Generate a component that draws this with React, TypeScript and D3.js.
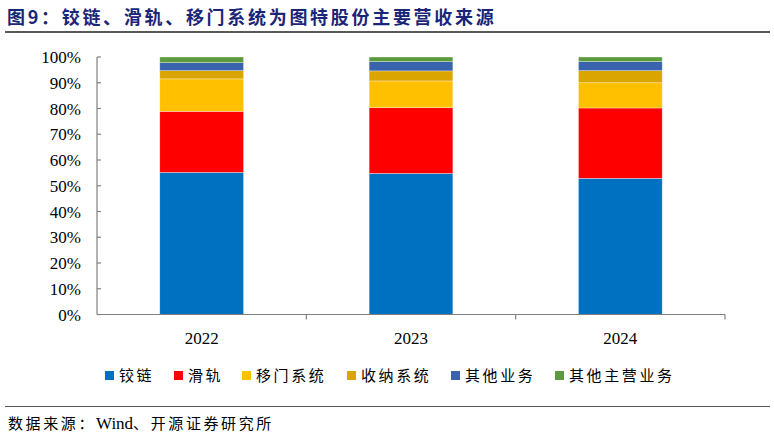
import React from "react";
import * as d3 from "d3";

if (typeof document !== "undefined") document.body.style.margin = "0";

const years = ["2022", "2023", "2024"];
const seriesNames = ["铰链", "滑轨", "移门系统", "收纳系统", "其他业务", "其他主营业务"];
const hinge = [55.2, 54.8, 52.9];
const slide = [23.7, 25.5, 27.3];
const slidingDoor = [12.6, 10.4, 9.8];
const storage = [3.2, 3.9, 4.7];
const otherBiz = [3.1, 3.6, 3.5];
const otherMain = [2.2, 1.8, 1.8];
const yTicks = [0, 10, 20, 30, 40, 50, 60, 70, 80, 90, 100];
const colors = ["#0070C0", "#FF0000", "#FFC000", "#DBA500", "#3A63AD", "#5B9B3D"];

const W = 774;
const H = 436;
const left = 97;
const right = 725;
const top = 57;
const bottom = 314.5;

export default function App() {
  const seriesValues = [hinge, slide, slidingDoor, storage, otherBiz, otherMain];
  const rows = years.map((y, i) => {
    const r: any = { year: y };
    seriesNames.forEach((s, k) => (r[s] = seriesValues[k][i]));
    return r;
  });
  const stacked = d3.stack<any>().keys(seriesNames)(rows);
  const x = d3.scaleBand<string>().domain(years).range([left, right]).paddingInner(0.6).paddingOuter(0.3);
  const xOuter = d3.scaleBand<string>().domain(years).range([left, right]);
  const y = d3.scaleLinear().domain([0, 100]).range([bottom, top]);

  const legendX = [105, 174, 242, 347, 451, 555];
  const serif = "'Liberation Serif', 'Times New Roman', serif";
  const cjk = "'Noto Sans CJK SC', sans-serif";

  return (
    <svg width={W} height={H} style={{ display: "block", background: "#fff" }}>
      <text x={7} y={24} fontFamily={cjk} fontWeight={700} fontSize={18} fill="#1a2578" letterSpacing={2.7}>
        图9：铰链、滑轨、移门系统为图特股份主要营收来源
      </text>
      <line x1={5} x2={770} y1={32} y2={32} stroke="#222" strokeWidth={1.5} />

      {stacked.map((layer, k) => (
        <g key={layer.key} fill={colors[k]}>
          {layer.map((d, i) => (
            <rect
              key={i}
              x={x(years[i])}
              width={x.bandwidth()}
              y={y(d[1])}
              height={y(d[0]) - y(d[1])}
              stroke="rgba(255,255,255,0.55)"
              strokeWidth={0.6}
            />
          ))}
        </g>
      ))}

      <line x1={left} x2={left} y1={top} y2={bottom} stroke="#808080" strokeWidth={1.2} />
      <line x1={left} x2={right} y1={bottom} y2={bottom} stroke="#808080" strokeWidth={1.2} />
      {yTicks.map((t) => (
        <g key={t}>
          <line x1={left} x2={left + 4} y1={y(t)} y2={y(t)} stroke="#808080" strokeWidth={1.2} />
          <text x={81} y={y(t) + 6} textAnchor="end" fontFamily={serif} fontSize={17} fill="#000">
            {t}%
          </text>
        </g>
      ))}
      {years.map((yr) => (
        <g key={yr}>
          <line
            x1={(xOuter(yr) as number) + xOuter.bandwidth()}
            x2={(xOuter(yr) as number) + xOuter.bandwidth()}
            y1={bottom}
            y2={bottom + 5}
            stroke="#808080"
            strokeWidth={1.2}
          />
          <text
            x={(xOuter(yr) as number) + xOuter.bandwidth() / 2}
            y={344}
            textAnchor="middle"
            fontFamily={serif}
            fontSize={17}
            fill="#000"
          >
            {yr}
          </text>
        </g>
      ))}

      {seriesNames.map((s, k) => (
        <g key={s}>
          <rect x={legendX[k]} y={371} width={9} height={9} fill={colors[k]} />
          <text x={legendX[k] + 14} y={381} fontFamily={cjk} fontSize={15} letterSpacing={2.6} fill="#000">
            {s}
          </text>
        </g>
      ))}

      <line x1={5} x2={770} y1={406.5} y2={406.5} stroke="#555" strokeWidth={1.2} />
      <text x={8} y={429} fontFamily={cjk} fontSize={15} fill="#000" letterSpacing={2.6}>
        数据来源：<tspan fontFamily={serif} fontSize={17} letterSpacing={0}>Wind</tspan>、开源证券研究所
      </text>
    </svg>
  );
}
